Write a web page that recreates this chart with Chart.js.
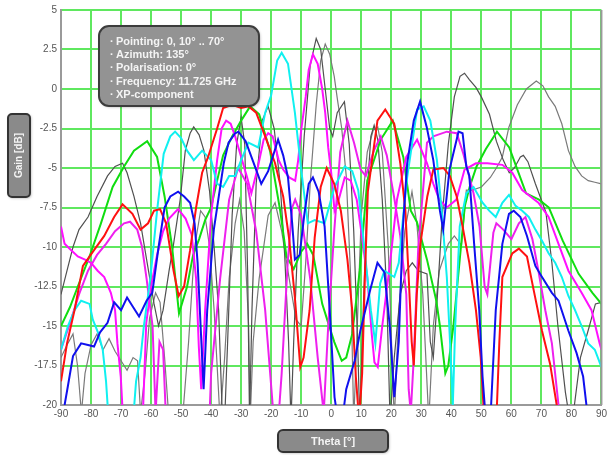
<!DOCTYPE html>
<html>
<head>
    <title>XP-component gain vs theta</title>
    <style>
        body { margin: 0; padding: 0; background: #fff; }
        #wrap { width: 610px; height: 455px; }
    </style>
    <script src="https://cdn.jsdelivr.net/npm/chart.js"></script>
</head>
<body>
    <div id="wrap"><canvas id="xpChart" width="610" height="455"></canvas></div>

    <script>
        // [theta in degrees, gain in dB]
        const grayDark = [[-90,-13],[-88,-11.5],[-86,-10],[-84,-8.9],[-81,-8.1],[-78,-6.8],[-74.5,-5.5],[-72,-4.9],[-69.5,-4.7],[-68,-5.3],[-65.7,-6.8],[-63.5,-8.5],[-61.3,-11],[-59,-13.6],[-57.5,-15],[-56,-14],[-54,-11.5],[-52.5,-9.8],[-50.3,-7],[-48.6,-3.9],[-47,-2.8],[-45.8,-2.4],[-44,-2.9],[-42.4,-3.9],[-40.5,-6.5],[-39,-10],[-37.5,-14],[-36.3,-20.5],[-35.5,-21],[-34.5,-16],[-33,-8],[-31.5,-3.5],[-30,-1.8],[-28.8,-3.5],[-27.8,-12],[-27.2,-21],[-26.4,-14],[-25,-6],[-23,-2],[-21,-1.1],[-19,-2.5],[-17,-6],[-15.5,-10.5],[-14.2,-16],[-13.4,-21],[-12.5,-16],[-11,-9],[-9,-3],[-7,1.5],[-5,3.2],[-3.5,2.5],[-2,0],[-0.5,-2.5],[0.5,-3],[2,-1.5],[4.4,-0.8],[6,-3.5],[7.5,-9],[8.8,-16],[9.5,-21],[10.5,-15],[12,-6.5],[13.2,-3],[14.3,-2.3],[15.5,-3.2],[17,-7],[18.5,-13],[19.6,-21],[21,-17],[23,-13],[25,-11.5],[27,-11],[29,-11.5],[31.9,-11.7],[33,-16],[34,-17],[35.2,-13.6],[37,-8],[39,-3.5],[41,-0.5],[42.9,0.8],[44.4,1],[46,0.6],[48.2,0.1],[50,-0.5],[52.7,-1.6],[55,-3.3],[57.3,-4.5],[59.3,-5.3],[61,-5],[63,-4.3],[64,-4.2],[65.5,-4.6],[68,-6],[71.5,-7.8],[73.5,-11],[75.5,-15],[78,-19.2],[79.5,-21],[81,-20],[83,-17],[86,-15],[88,-13.6],[90,-13.5]];

        const grayLight = [[-90,-17],[-88,-16.2],[-86,-15.5],[-84.5,-17.5],[-83.2,-20.5],[-82,-18],[-80,-16.2],[-78,-15.5],[-76,-16.5],[-74,-15.8],[-72,-16.6],[-70,-17.2],[-68,-17.8],[-66,-17],[-64.5,-17.2],[-63.5,-20.5],[-62,-18],[-60.5,-14.5],[-58.5,-12.9],[-57,-13.5],[-55.5,-17],[-54,-21],[-50,-22],[-47.5,-16],[-45.5,-10],[-43.5,-7.7],[-42,-8.1],[-40.5,-10],[-39,-14],[-37,-21],[-35.5,-17],[-34,-12],[-32,-8.5],[-30.5,-7],[-29,-9],[-27.5,-15],[-27,-21],[-26,-16],[-24,-12],[-21,-8],[-18.7,-7.2],[-16.5,-9],[-14,-12],[-11.7,-14.6],[-10,-15],[-8.5,-11],[-7,-6],[-5,-1],[-3.5,1.8],[-2,2.85],[-0.5,2.2],[1,0.8],[2.1,-0.7],[3.5,-2.5],[5,-5.5],[6.5,-12],[7.5,-21],[8.5,-16],[10,-8],[12,-4],[14,-2.6],[15.5,-2.4],[17,-4],[19,-10],[21,-21],[22.5,-14],[24.5,-9],[26.9,-6.5],[28.5,-8.5],[30.5,-13],[32.5,-21],[34,-15],[36,-11.5],[39,-9.8],[41,-9.3],[43.4,-9.9],[45,-6.4],[47,-6.4],[50,-6.2],[53,-5.6],[55,-5],[57,-4.3],[59.2,-2.4],[62,-1],[65,0],[68.3,0.5],[70.5,0.2],[72.4,-0.5],[74.6,-1.1],[76.8,-2.2],[79,-3.9],[81.2,-4.9],[83.4,-5.5],[85.6,-5.8],[87.8,-5.9],[90,-6]];

        const greenLine = [[-90,-15],[-87,-13.8],[-84.4,-12.5],[-80.5,-10.6],[-76.7,-8.5],[-72.8,-6.2],[-69,-4.9],[-65.7,-3.9],[-61.3,-3.3],[-58,-4.3],[-55.5,-6.8],[-53,-10],[-50.7,-14.2],[-48,-12.5],[-46,-10.5],[-44,-9.5],[-42,-8.3],[-40,-7.5],[-38,-5.8],[-36,-4.2],[-33,-3],[-30,-2],[-27,-1.1],[-24,-1.6],[-20.4,-3.9],[-17,-7.7],[-14.9,-10.6],[-12.5,-11.4],[-10,-10.3],[-8,-9.8],[-6,-10.5],[-3,-13.6],[-1,-14.8],[1,-16],[3.5,-17.2],[5,-17],[7,-15.5],[9.5,-11.5],[12,-5.8],[16.5,-3.2],[20.5,-2],[24,-4.3],[26.5,-7.7],[28.5,-8.4],[31.9,-10.8],[35,-13.4],[36.2,-15],[38,-18],[39,-17.5],[40.7,-15],[42.8,-10.8],[44.5,-7.4],[46.1,-6.2],[48.4,-4.9],[51.5,-3.8],[55.2,-2.7],[59.3,-3.7],[61.6,-4.9],[64.9,-6.6],[69.2,-7],[72.5,-7.5],[77.1,-9.6],[82.4,-11.7],[87,-12.9],[90,-13.6]];

        const redLine = [[-90,-18.5],[-88,-16.1],[-85.5,-14],[-84,-12.5],[-82.7,-11.2],[-79,-10.2],[-75.6,-9.3],[-72.3,-8.1],[-69.5,-7.3],[-66.2,-7.9],[-63.5,-8.9],[-61,-8.5],[-59,-7.7],[-57,-7.6],[-55,-8.5],[-52.5,-11.5],[-50.8,-13.1],[-49,-12.5],[-47,-10.2],[-45,-7.5],[-43,-5.3],[-41,-4.3],[-38,-2.5],[-36,-1.2],[-33,-1],[-30,-1.2],[-27.5,-1.1],[-25,-1.5],[-22,-3],[-18.7,-4.7],[-16,-6.8],[-14,-9.5],[-12.1,-13.2],[-10.3,-17.6],[-9.2,-17],[-7.2,-14],[-5.5,-9.4],[-3.5,-6.2],[-1.5,-5],[1,-6],[3.2,-7.7],[5.4,-10.8],[7,-14],[8.2,-18.2],[9.3,-21],[10.3,-18],[11.2,-12],[12.2,-6.5],[15.4,-2],[18,-1.3],[21,-2.2],[23,-4.7],[24.7,-7.7],[25.8,-11.9],[26.8,-16],[27.5,-17.5],[28.5,-13],[29.7,-9.8],[32,-6.8],[34,-5.1],[37.4,-5],[39.5,-5.5],[41.8,-6.8],[43.75,-8.7],[46,-11],[48.2,-14],[49.8,-17],[51,-21],[55,-21],[56,-16],[57,-11.9],[60.3,-10.4],[62.5,-10.1],[65.2,-10.6],[67.4,-12.7],[70.2,-15.3],[72.9,-17.4],[75.1,-20],[77,-23],[90,-23]];

        const blueLine = [[-90,-21],[-88.8,-20],[-87.7,-18.8],[-86,-16.9],[-83.3,-16.1],[-81,-16.2],[-79,-16.3],[-77,-15.4],[-74.5,-14.8],[-72.3,-13.5],[-70,-14],[-68,-13.2],[-66,-13.8],[-64,-14.4],[-61.5,-13.4],[-59.6,-12.9],[-57.5,-10],[-55.5,-7.5],[-53.6,-6.8],[-51,-6.5],[-49,-6.8],[-47,-7.2],[-45.5,-8.5],[-44.5,-11],[-43.5,-15],[-42.5,-19],[-41.3,-14],[-39.1,-8.9],[-35.8,-4.7],[-34.2,-3.4],[-32,-2.8],[-30.9,-2.7],[-28.5,-3.3],[-26,-4.6],[-23.3,-6],[-21,-5.2],[-19,-4],[-17.7,-3.2],[-16,-4.2],[-14.4,-5.6],[-13,-8.5],[-12.1,-10.8],[-10.5,-10.5],[-9,-8],[-7.5,-6],[-6.1,-5.6],[-4.2,-6.5],[-2.2,-8.7],[-0.5,-14],[1.1,-19.5],[3,-22],[5,-19],[7.8,-17.2],[9.7,-15.3],[13,-12.7],[15.4,-11],[17.7,-11.6],[19.5,-15],[21,-19.5],[22.5,-16],[23.8,-9],[25.3,-4.7],[27.5,-2],[29.6,-0.8],[31.8,-2.4],[34,-4.5],[36.2,-7.7],[37.3,-8.9],[39.4,-5.1],[42.4,-2.7],[43.75,-2.8],[45,-4.9],[46,-5.5],[47.6,-9.8],[49.3,-14],[50.4,-18.2],[51.5,-21],[53,-21],[54.8,-14],[57,-9.8],[59.2,-7.9],[60.8,-7.7],[63,-8.1],[65.2,-9.3],[68,-11.2],[70.2,-11.9],[73.5,-12.9],[75.7,-13.4],[79,-15.3],[81.7,-16.7],[83.9,-18.2],[85,-20],[87,-23],[90,-23]];

        const cyanLine = [[-90,-16.5],[-87.7,-15],[-85.5,-14],[-83.3,-13.4],[-80.5,-13.6],[-79.4,-14.6],[-77.5,-15.5],[-76.1,-16.5],[-75,-18.5],[-74.3,-20.5],[-70,-24],[-66,-21],[-65,-18.5],[-63.5,-17],[-62.4,-15],[-60.2,-11.9],[-58,-7.7],[-55.8,-4.1],[-53.6,-3],[-52,-2.7],[-50,-3.1],[-48,-3.9],[-45.75,-4.5],[-43,-3.9],[-40,-4.5],[-38,-6],[-36,-6.2],[-34,-5.5],[-32,-5.5],[-30,-4.5],[-27.6,-3.4],[-24.3,-3.7],[-22,-1.5],[-20,-0.4],[-18,1.8],[-16.5,2.3],[-14.4,1.6],[-12.1,-1.5],[-10,-5.1],[-7.8,-8.5],[-5.5,-8.3],[-2.2,-8.5],[1.1,-6.2],[4.5,-4.9],[7,-5.2],[9,-6.4],[11,-10],[13.2,-14],[14.7,-16.1],[16.3,-12.3],[17.7,-11.5],[21,-11.9],[22.5,-11],[24,-8],[25.3,-5.6],[28.6,-1.3],[30.8,-1.1],[33,-2],[35.2,-4.5],[36.8,-7.7],[38.5,-11.9],[39.6,-16.1],[40.5,-20],[41.3,-15],[42.8,-8.7],[45,-6.6],[47.4,-6.2],[50.4,-7.2],[52.6,-7.7],[54.8,-8.1],[57,-7.2],[59.2,-6.7],[61.4,-7.4],[63.6,-7.7],[65.8,-8.1],[68,-8.9],[70.2,-9.6],[72.4,-10.4],[74.6,-11],[76.8,-11.9],[79,-13.1],[81.2,-14],[83.4,-15],[85.6,-16.1],[87.8,-16.5],[90,-17.6]];

        const magentaA = [[-90,-8.7],[-88.8,-9.8],[-86.6,-10.2],[-84.4,-10.6],[-82,-10.8],[-80,-11],[-77.8,-11.5],[-75.6,-11.9],[-73.4,-12.9],[-72,-14],[-71.2,-16.1],[-70.1,-18.2],[-69.3,-21],[-66,-24],[-63,-22],[-61.6,-14.8],[-60,-12.5],[-58,-10.5],[-56,-9],[-54,-8.2],[-51,-7.6],[-48.5,-8.2],[-46.5,-9.2],[-45,-12],[-44.1,-16.3],[-43.3,-19],[-42,-14],[-40,-8],[-38,-4.5],[-36.5,-2.5],[-35,-2],[-33.5,-2.2],[-32,-3],[-30,-4.3],[-28,-5.6],[-26.6,-6.6],[-24.5,-5],[-22.5,-3.2],[-21,-2.8],[-19.5,-3],[-17.5,-4.5],[-16,-5.1],[-14,-5.6],[-12,-5.8],[-11,-4.5],[-10,-2.6],[-8.5,-0.5],[-7.5,1.2],[-6.1,2.2],[-4.5,1.6],[-3,0],[-2,-1.5],[-1,-3.7],[0,-5.3],[1.1,-7.7],[2.5,-7],[4.5,-5.6],[6.5,-5.8],[8.5,-7],[10,-9],[12,-11.9],[13.5,-15.5],[14.4,-17.3],[15.5,-17.6],[17,-15],[19.6,-11],[21.9,-7],[25,-4.3],[28.6,-3.2],[31.9,-4.7],[34,-6],[36,-7],[38.5,-7.5],[41.7,-7],[44.4,-5.1],[48.2,-4.7],[52,-4.7],[57,-4.8],[60.3,-5.3],[63.6,-6.4],[69,-7.2],[72.4,-8.1],[75.7,-9.8],[79,-11.5],[83.4,-12.9],[86.7,-14],[89.4,-16.1],[90,-16.5]];

        const magentaB = [[-90,-16.5],[-87,-14.8],[-84,-13],[-81,-11.5],[-78,-10.5],[-75,-9.8],[-72,-9],[-69,-8.5],[-67,-8.4],[-64.6,-8.9],[-63,-10],[-61.5,-12],[-59.5,-15],[-58.5,-20.5],[-57.2,-16],[-56,-16.5],[-55,-21],[-50,-23],[-41,-23],[-40,-18],[-37,-12],[-34,-7],[-31,-5],[-28,-6],[-25,-9],[-22,-14],[-19.5,-20],[-18,-22],[-16.5,-18],[-14.5,-11],[-13,-7.5],[-12,-7],[-10,-8],[-7,-12],[-4.5,-17],[-2.5,-20.5],[-1,-15],[1,-9],[3,-4],[5.4,-2],[7.6,-3.4],[9.8,-5.1],[11.5,-5.5],[14.2,-3.9],[16.5,-3],[18.5,-4.2],[20.9,-6.8],[23,-9.3],[25,-13],[25.8,-19],[26.5,-20.5],[27.5,-17],[29,-10],[31.9,-3.4],[34,-3],[38.5,-2.7],[41.8,-2.8],[44,-4.1],[47.4,-6.6],[49.4,-8.7],[51.1,-12.5],[52,-13],[54,-9.1],[55,-8.5],[57.3,-8.9],[60,-9.5],[62.5,-8.5],[64.7,-8.1],[67,-9.5],[69,-11.5],[71.3,-14],[73.5,-16.1],[75.7,-20],[77,-23],[90,-23]];

        const yTicks = [5, 2.5, 0, -2.5, -5, -7.5, -10, -12.5, -15, -17.5, -20];
        const infoLines = ['Pointing: 0, 10° .. 70°', 'Azimuth: 135°', 'Polarisation: 0°', 'Frequency: 11.725 GHz', 'XP-component'];

        const series = [
            { data: blueLine, color: '#1010ee', width: 2 },
            { data: redLine, color: '#ff1010', width: 2 },
            { data: cyanLine, color: '#10f0f0', width: 2 },
            { data: magentaA, color: '#ff10ff', width: 2 },
            { data: magentaB, color: '#ee20ee', width: 2 },
            { data: greenLine, color: '#10dd10', width: 2 },
            { data: grayDark, color: '#505050', width: 1.2 },
            { data: grayLight, color: '#7a7a7a', width: 1.2 }
        ];

        function roundBox(ctx, x, y, w, h, r, fill, stroke) {
            ctx.save();
            ctx.shadowColor = 'rgba(0,0,0,0.35)';
            ctx.shadowBlur = 3;
            ctx.shadowOffsetX = 1;
            ctx.shadowOffsetY = 1;
            ctx.beginPath();
            ctx.roundRect(x, y, w, h, r);
            ctx.fillStyle = fill;
            ctx.fill();
            ctx.shadowColor = 'transparent';
            ctx.lineWidth = 2;
            ctx.strokeStyle = stroke;
            ctx.stroke();
            ctx.restore();
        }

        const decorations = {
            id: 'decorations',
            afterDatasetsDraw(chart) {
                const ctx = chart.ctx;
                const a = chart.chartArea;

                // right frame line
                ctx.save();
                ctx.strokeStyle = '#9a9a9a';
                ctx.lineWidth = 2;
                ctx.beginPath();
                ctx.moveTo(a.right, a.top);
                ctx.lineTo(a.right, a.bottom);
                ctx.stroke();
                ctx.restore();

                // info box
                roundBox(ctx, 99, 26, 160, 80, 10, '#939393', '#3c3c3c');
                ctx.save();
                ctx.fillStyle = '#f4f4f4';
                ctx.font = 'bold 11px "Liberation Sans", Arial, sans-serif';
                ctx.textBaseline = 'middle';
                infoLines.forEach((t, i) => {
                    const y = 41.5 + i * 13.4;
                    ctx.fillText('·', 110, y);
                    ctx.fillText(t, 116, y);
                });
                ctx.restore();

                // y axis title
                roundBox(ctx, 8, 114, 22, 83, 4, '#8a8a8a', '#333333');
                ctx.save();
                ctx.translate(19.5, 155.5);
                ctx.rotate(-Math.PI / 2);
                ctx.fillStyle = '#f4f4f4';
                ctx.font = 'bold 10px "Liberation Sans", Arial, sans-serif';
                ctx.textAlign = 'center';
                ctx.textBaseline = 'middle';
                ctx.fillText('Gain [dB]', 0, 0);
                ctx.restore();

                // x axis title
                roundBox(ctx, 278, 430, 110, 22, 5, '#8a8a8a', '#333333');
                ctx.save();
                ctx.fillStyle = '#f4f4f4';
                ctx.font = 'bold 11px "Liberation Sans", Arial, sans-serif';
                ctx.textAlign = 'center';
                ctx.textBaseline = 'middle';
                ctx.fillText('Theta [°]', 333, 441.5);
                ctx.restore();
            }
        };

        const ctx = document.getElementById('xpChart').getContext('2d');
        new Chart(ctx, {
            type: 'line',
            data: {
                datasets: series.map(s => ({
                    data: s.data.map(p => ({ x: p[0], y: p[1] })),
                    borderColor: s.color,
                    borderWidth: s.width,
                    pointRadius: 0,
                    tension: 0,
                    fill: false
                }))
            },
            options: {
                responsive: false,
                animation: false,
                layout: { padding: { top: 10, right: 4, left: 0, bottom: 0 } },
                plugins: {
                    legend: { display: false },
                    tooltip: { enabled: false }
                },
                scales: {
                    x: {
                        type: 'linear',
                        min: -90,
                        max: 90,
                        afterFit: s => { s.height = 50; },
                        ticks: {
                            stepSize: 10,
                            padding: 3,
                            color: '#555',
                            font: { family: '"Liberation Sans", Arial, sans-serif', size: 10 },
                            maxRotation: 0
                        },
                        grid: { color: '#5fe85f', lineWidth: 2, drawTicks: false },
                        border: { display: true, color: '#9a9a9a', width: 2 }
                    },
                    y: {
                        type: 'linear',
                        min: -20,
                        max: 5,
                        afterFit: s => { s.width = 61; },
                        afterBuildTicks: s => { s.ticks = yTicks.map(v => ({ value: v })); },
                        ticks: {
                            padding: 4,
                            color: '#555',
                            font: { family: '"Liberation Sans", Arial, sans-serif', size: 10 },
                            callback: v => String(v)
                        },
                        grid: { color: '#5fe85f', lineWidth: 2, drawTicks: false },
                        border: { display: true, color: '#9a9a9a', width: 2 }
                    }
                }
            },
            plugins: [decorations]
        });
    </script>
</body>
</html>
